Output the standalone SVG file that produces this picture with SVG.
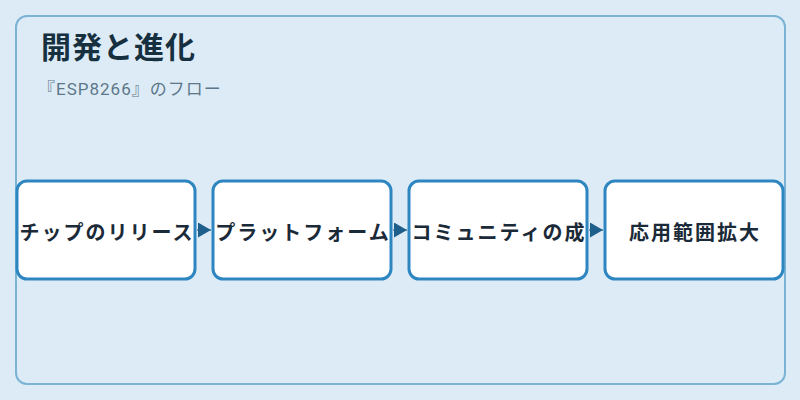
<svg xmlns="http://www.w3.org/2000/svg" width="800" height="400" viewBox="0 0 800 400">
<defs>
<style>
.bg{fill:#dcebf6}
.panel{fill:#dcebf6;stroke:#7ab3d6;stroke-width:2}
.box{fill:#ffffff;stroke:#2e86c1;stroke-width:3}
.lbl{font-family:"Noto Sans CJK JP","Noto Sans",sans-serif;font-weight:700;font-size:20px;fill:#1b2a38;text-anchor:middle;dominant-baseline:central;letter-spacing:2px}
.title{font-family:"Noto Sans CJK JP","Noto Sans",sans-serif;font-weight:700;font-size:30px;fill:#17303f;letter-spacing:1px}
.sub{font-family:Roboto,"Noto Sans CJK JP",sans-serif;font-size:17px;fill:#5d7789;letter-spacing:1px}
.conn{stroke:#1f5f8b;stroke-width:1;fill:none}
</style>
<marker id="arr" viewBox="0 0 13 15" refX="13" refY="7.5" markerWidth="13" markerHeight="15" markerUnits="userSpaceOnUse" orient="auto">
<path d="M0,0 L13,7.5 L0,15 Z" fill="#1f5f8b"/>
</marker>
</defs>
<rect class="bg" x="0" y="0" width="800" height="400"/>
<rect class="panel" x="16" y="16" width="769" height="368" rx="11" ry="11"/>
<text class="title" x="41" y="58">開発と進化</text>
<text class="sub" x="38" y="95">『ESP8266』のフロー</text>
<g id="connectors">
<line class="conn" x1="197" y1="230" x2="211" y2="230" marker-end="url(#arr)"/>
<line class="conn" x1="393" y1="230" x2="407" y2="230" marker-end="url(#arr)"/>
<line class="conn" x1="589" y1="230" x2="603" y2="230" marker-end="url(#arr)"/>
</g>
<g id="node1">
<rect class="box" x="17" y="181" width="178" height="98" rx="10" ry="10"/>
<text class="lbl" x="107" y="231">チップのリリース</text>
</g>
<g id="node2">
<rect class="box" x="213" y="181" width="178" height="98" rx="10" ry="10"/>
<text class="lbl" x="303" y="231">プラットフォーム</text>
</g>
<g id="node3">
<rect class="box" x="409" y="181" width="178" height="98" rx="10" ry="10"/>
<text class="lbl" x="499" y="231">コミュニティの成</text>
</g>
<g id="node4">
<rect class="box" x="605" y="181" width="178" height="98" rx="10" ry="10"/>
<text class="lbl" x="695" y="231">応用範囲拡大</text>
</g>
</svg>
